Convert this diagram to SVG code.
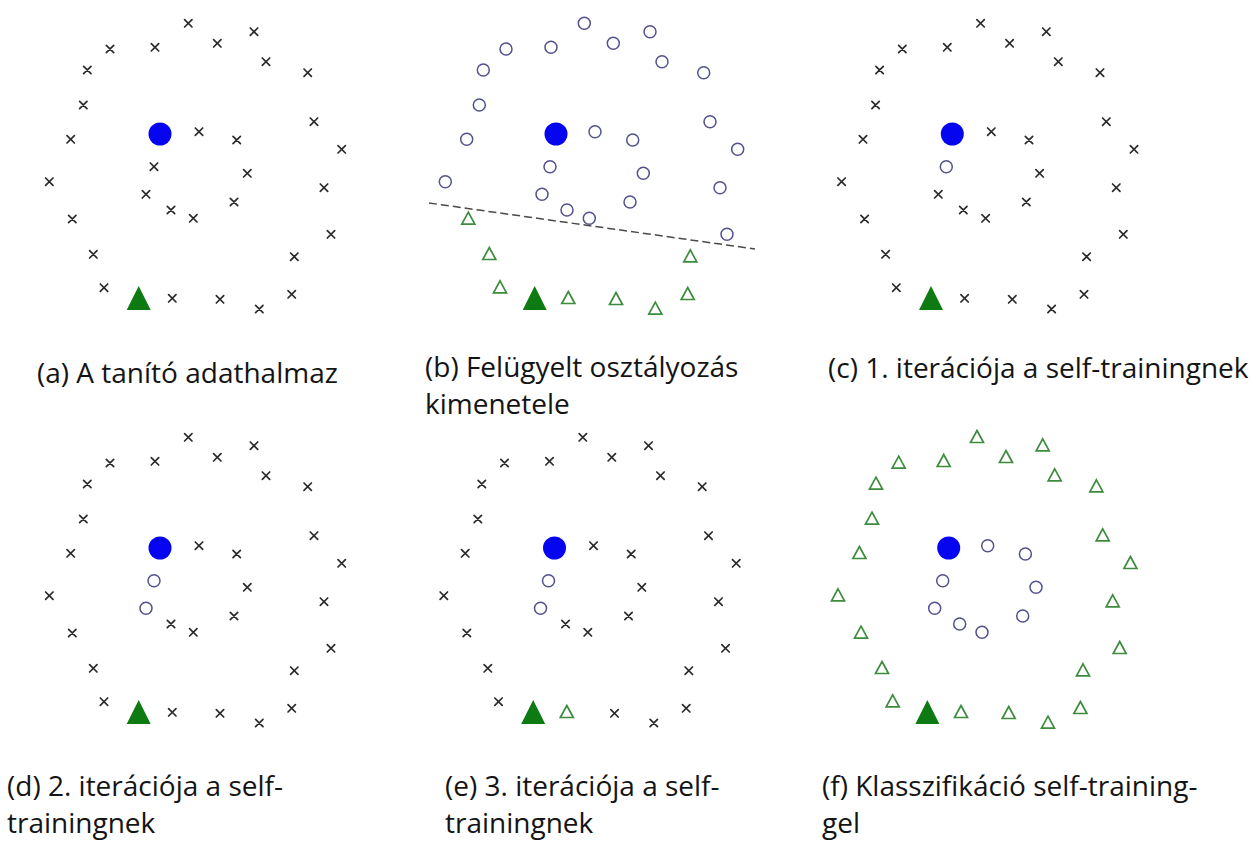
<svg xmlns="http://www.w3.org/2000/svg" xmlns:xlink="http://www.w3.org/1999/xlink" width="1252" height="841" viewBox="0 0 1252 841">
<style>
.cap{font-family:"Open Sans","Noto Sans","Liberation Sans",sans-serif;font-size:28px;fill:#141414}
.xm{fill:none;stroke:#2a2a2a;stroke-width:1.7;stroke-linecap:round}
.oc{fill:none;stroke:#52528f;stroke-width:1.5}
.ot{fill:none;stroke:#3d8b3d;stroke-width:1.7;stroke-linejoin:miter}
.ft{fill:#0e7a12}
.fc{fill:#0505f0}
.dash{fill:none;stroke:#4a4a4a;stroke-width:1.5;stroke-dasharray:8 4}
</style>
<defs>
<path id="x" class="xm" d="M-3.7,-3.7L3.7,3.7M-3.7,3.7L3.7,-3.7"/>
<circle id="o" class="oc" r="6"/>
<polygon id="t" class="ot" points="0,-6.8 6.5,5.2 -6.5,5.2"/>
<polygon id="T" class="ft" points="0,-12 12,12 -12,12"/>
<circle id="B" class="fc" r="11.5"/>
</defs>
<rect width="1252" height="841" fill="#ffffff"/>

<g id="panel-a">
<use href="#B" x="160" y="134"/>
<use href="#T" x="138.7" y="298"/>
<use href="#x" x="188.3" y="23.3"/><use href="#x" x="254" y="31.7"/><use href="#x" x="110" y="49"/><use href="#x" x="155" y="47.3"/><use href="#x" x="217.3" y="43.3"/><use href="#x" x="266" y="61.7"/><use href="#x" x="307.7" y="72.7"/><use href="#x" x="87.3" y="70"/><use href="#x" x="83.3" y="105"/><use href="#x" x="314" y="121.7"/><use href="#x" x="70.7" y="139.3"/>
<use href="#x" x="199" y="131.7"/><use href="#x" x="236.7" y="140"/><use href="#x" x="341.7" y="149.3"/><use href="#x" x="154" y="166.7"/><use href="#x" x="247.3" y="173.3"/><use href="#x" x="49.3" y="181.7"/><use href="#x" x="324" y="187.7"/><use href="#x" x="146" y="194.3"/><use href="#x" x="234" y="202"/><use href="#x" x="171" y="210"/><use href="#x" x="193.3" y="218.3"/><use href="#x" x="72.3" y="219"/><use href="#x" x="331" y="234.3"/><use href="#x" x="93.3" y="254.3"/><use href="#x" x="294.3" y="256.7"/><use href="#x" x="104" y="287.7"/>
<use href="#x" x="172.3" y="298.3"/><use href="#x" x="220" y="299.3"/><use href="#x" x="259.3" y="309"/><use href="#x" x="291.7" y="294.3"/>
<text class="cap" x="37" y="383">(a) A tanító adathalmaz</text>
</g>

<g id="panel-b">
<g transform="translate(396,0)">
<use href="#B" x="160" y="134"/>
<use href="#T" x="138.7" y="298"/>
<use href="#o" x="188.3" y="23.3"/><use href="#o" x="254" y="31.7"/><use href="#o" x="110" y="49"/><use href="#o" x="155" y="47.3"/><use href="#o" x="217.3" y="43.3"/><use href="#o" x="266" y="61.7"/><use href="#o" x="307.7" y="72.7"/><use href="#o" x="87.3" y="70"/><use href="#o" x="83.3" y="105"/><use href="#o" x="314" y="121.7"/><use href="#o" x="70.7" y="139.3"/>
<use href="#o" x="199" y="131.7"/><use href="#o" x="236.7" y="140"/><use href="#o" x="341.7" y="149.3"/><use href="#o" x="154" y="166.7"/><use href="#o" x="247.3" y="173.3"/><use href="#o" x="49.3" y="181.7"/><use href="#o" x="324" y="187.7"/><use href="#o" x="146" y="194.3"/><use href="#o" x="234" y="202"/><use href="#o" x="171" y="210"/><use href="#o" x="193.3" y="218.3"/><use href="#t" x="72.3" y="219"/><use href="#o" x="331" y="234.3"/><use href="#t" x="93.3" y="254.3"/><use href="#t" x="294.3" y="256.7"/><use href="#t" x="104" y="287.7"/>
<use href="#t" x="172.3" y="298.3"/><use href="#t" x="220" y="299.3"/><use href="#t" x="259.3" y="309"/><use href="#t" x="291.7" y="294.3"/>
</g>
<line class="dash" x1="429" y1="203" x2="755" y2="249"/>
<text class="cap" x="425" y="377">(b) Felügyelt osztályozás</text>
<text class="cap" x="425" y="414">kimenetele</text>
</g>

<g id="panel-c">
<g transform="translate(792.3,0)">
<use href="#B" x="160" y="134"/>
<use href="#T" x="138.7" y="298"/>
<use href="#x" x="188.3" y="23.3"/><use href="#x" x="254" y="31.7"/><use href="#x" x="110" y="49"/><use href="#x" x="155" y="47.3"/><use href="#x" x="217.3" y="43.3"/><use href="#x" x="266" y="61.7"/><use href="#x" x="307.7" y="72.7"/><use href="#x" x="87.3" y="70"/><use href="#x" x="83.3" y="105"/><use href="#x" x="314" y="121.7"/><use href="#x" x="70.7" y="139.3"/>
<use href="#x" x="199" y="131.7"/><use href="#x" x="236.7" y="140"/><use href="#x" x="341.7" y="149.3"/><use href="#o" x="154" y="166.7"/><use href="#x" x="247.3" y="173.3"/><use href="#x" x="49.3" y="181.7"/><use href="#x" x="324" y="187.7"/><use href="#x" x="146" y="194.3"/><use href="#x" x="234" y="202"/><use href="#x" x="171" y="210"/><use href="#x" x="193.3" y="218.3"/><use href="#x" x="72.3" y="219"/><use href="#x" x="331" y="234.3"/><use href="#x" x="93.3" y="254.3"/><use href="#x" x="294.3" y="256.7"/><use href="#x" x="104" y="287.7"/>
<use href="#x" x="172.3" y="298.3"/><use href="#x" x="220" y="299.3"/><use href="#x" x="259.3" y="309"/><use href="#x" x="291.7" y="294.3"/>
</g>
<text class="cap" x="828" y="378">(c) 1. iterációja a self-trainingnek</text>
</g>

<g id="panel-d">
<g transform="translate(0,414)">
<use href="#B" x="160" y="134"/>
<use href="#T" x="138.7" y="298"/>
<use href="#x" x="188.3" y="23.3"/><use href="#x" x="254" y="31.7"/><use href="#x" x="110" y="49"/><use href="#x" x="155" y="47.3"/><use href="#x" x="217.3" y="43.3"/><use href="#x" x="266" y="61.7"/><use href="#x" x="307.7" y="72.7"/><use href="#x" x="87.3" y="70"/><use href="#x" x="83.3" y="105"/><use href="#x" x="314" y="121.7"/><use href="#x" x="70.7" y="139.3"/>
<use href="#x" x="199" y="131.7"/><use href="#x" x="236.7" y="140"/><use href="#x" x="341.7" y="149.3"/><use href="#o" x="154" y="166.7"/><use href="#x" x="247.3" y="173.3"/><use href="#x" x="49.3" y="181.7"/><use href="#x" x="324" y="187.7"/><use href="#o" x="146" y="194.3"/><use href="#x" x="234" y="202"/><use href="#x" x="171" y="210"/><use href="#x" x="193.3" y="218.3"/><use href="#x" x="72.3" y="219"/><use href="#x" x="331" y="234.3"/><use href="#x" x="93.3" y="254.3"/><use href="#x" x="294.3" y="256.7"/><use href="#x" x="104" y="287.7"/>
<use href="#x" x="172.3" y="298.3"/><use href="#x" x="220" y="299.3"/><use href="#x" x="259.3" y="309"/><use href="#x" x="291.7" y="294.3"/>
</g>
<text class="cap" x="7" y="796">(d) 2. iterációja a self-</text>
<text class="cap" x="7" y="833">trainingnek</text>
</g>

<g id="panel-e">
<g transform="translate(394.5,414)">
<use href="#B" x="160" y="134"/>
<use href="#T" x="138.7" y="298"/>
<use href="#x" x="188.3" y="23.3"/><use href="#x" x="254" y="31.7"/><use href="#x" x="110" y="49"/><use href="#x" x="155" y="47.3"/><use href="#x" x="217.3" y="43.3"/><use href="#x" x="266" y="61.7"/><use href="#x" x="307.7" y="72.7"/><use href="#x" x="87.3" y="70"/><use href="#x" x="83.3" y="105"/><use href="#x" x="314" y="121.7"/><use href="#x" x="70.7" y="139.3"/>
<use href="#x" x="199" y="131.7"/><use href="#x" x="236.7" y="140"/><use href="#x" x="341.7" y="149.3"/><use href="#o" x="154" y="166.7"/><use href="#x" x="247.3" y="173.3"/><use href="#x" x="49.3" y="181.7"/><use href="#x" x="324" y="187.7"/><use href="#o" x="146" y="194.3"/><use href="#x" x="234" y="202"/><use href="#x" x="171" y="210"/><use href="#x" x="193.3" y="218.3"/><use href="#x" x="72.3" y="219"/><use href="#x" x="331" y="234.3"/><use href="#x" x="93.3" y="254.3"/><use href="#x" x="294.3" y="256.7"/><use href="#x" x="104" y="287.7"/>
<use href="#t" x="172.3" y="298.3"/><use href="#x" x="220" y="299.3"/><use href="#x" x="259.3" y="309"/><use href="#x" x="291.7" y="294.3"/>
</g>
<text class="cap" x="445" y="796">(e) 3. iterációja a self-</text>
<text class="cap" x="445" y="833">trainingnek</text>
</g>

<g id="panel-f">
<g transform="translate(788.7,414)">
<use href="#B" x="160" y="134"/>
<use href="#T" x="138.7" y="298"/>
<use href="#t" x="188.3" y="23.3"/><use href="#t" x="254" y="31.7"/><use href="#t" x="110" y="49"/><use href="#t" x="155" y="47.3"/><use href="#t" x="217.3" y="43.3"/><use href="#t" x="266" y="61.7"/><use href="#t" x="307.7" y="72.7"/><use href="#t" x="87.3" y="70"/><use href="#t" x="83.3" y="105"/><use href="#t" x="314" y="121.7"/><use href="#t" x="70.7" y="139.3"/>
<use href="#o" x="199" y="131.7"/><use href="#o" x="236.7" y="140"/><use href="#t" x="341.7" y="149.3"/><use href="#o" x="154" y="166.7"/><use href="#o" x="247.3" y="173.3"/><use href="#t" x="49.3" y="181.7"/><use href="#t" x="324" y="187.7"/><use href="#o" x="146" y="194.3"/><use href="#o" x="234" y="202"/><use href="#o" x="171" y="210"/><use href="#o" x="193.3" y="218.3"/><use href="#t" x="72.3" y="219"/><use href="#t" x="331" y="234.3"/><use href="#t" x="93.3" y="254.3"/><use href="#t" x="294.3" y="256.7"/><use href="#t" x="104" y="287.7"/>
<use href="#t" x="172.3" y="298.3"/><use href="#t" x="220" y="299.3"/><use href="#t" x="259.3" y="309"/><use href="#t" x="291.7" y="294.3"/>
</g>
<text class="cap" x="822" y="796">(f) Klasszifikáció self-training-</text>
<text class="cap" x="822" y="833">gel</text>
</g>
</svg>
